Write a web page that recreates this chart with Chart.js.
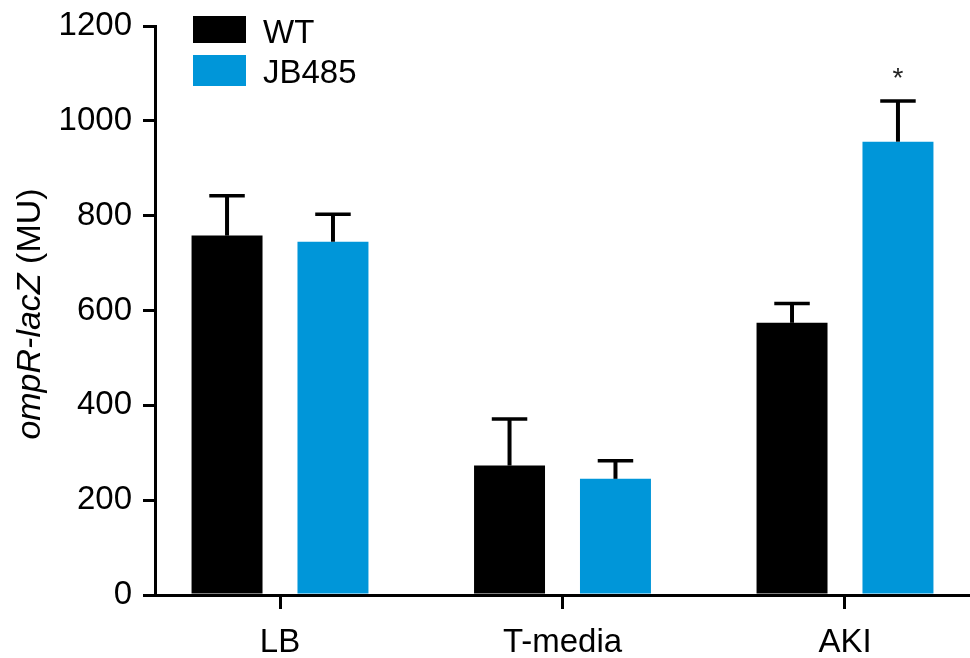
<!DOCTYPE html>
<html>
<head>
<meta charset="utf-8">
<script src="https://cdn.jsdelivr.net/npm/chart.js@4.4.1/dist/chart.umd.min.js"></script>
<style>
  html, body { margin: 0; padding: 0; background: #fff; }
  #wrap { width: 970px; height: 658px; }
</style>
</head>
<body>
<div id="wrap"><canvas id="chart" width="970" height="658"></canvas></div>
<script>
// data
const categories = ['LB', 'T-media', 'AKI'];
const wtMeans  = [758, 273, 574];
const wtErrors = [84, 98, 41];
const jbMeans  = [745, 245, 956];
const jbErrors = [58, 38, 86];
const jbStars  = ['', '', '*'];
const yMax = 1200;
const yStep = 200;

const FONT = "'Liberation Sans', Arial, Helvetica, sans-serif";
const BLUE = '#0096d9';

// one-sided (upward) error bars + significance stars
const errorBars = {
  id: 'errorBars',
  afterDatasetsDraw(chart) {
    const { ctx, scales: { y } } = chart;
    ctx.save();
    ctx.strokeStyle = '#000';
    chart.data.datasets.forEach((ds, i) => {
      const meta = chart.getDatasetMeta(i);
      meta.data.forEach((bar, j) => {
        const top = y.getPixelForValue(ds.data[j].y + ds.errors[j]);
        ctx.lineWidth = 4;
        ctx.beginPath();
        ctx.moveTo(bar.x, bar.y);
        ctx.lineTo(bar.x, top);
        ctx.stroke();
        ctx.lineWidth = 3.5;
        ctx.beginPath();
        ctx.moveTo(bar.x - bar.width / 4, top);
        ctx.lineTo(bar.x + bar.width / 4, top);
        ctx.stroke();
        if (ds.stars && ds.stars[j]) {
          ctx.fillStyle = '#222';
          ctx.font = `28px ${FONT}`;
          ctx.textAlign = 'center';
          ctx.textBaseline = 'alphabetic';
          ctx.fillText(ds.stars[j], bar.x, top - 14);
        }
      });
    });
    ctx.restore();
  }
};

// legend boxes top-left
const legendBoxes = {
  id: 'legendBoxes',
  afterDraw(chart) {
    const ctx = chart.ctx;
    const rows = [
      { y: 16, h: 27, base: 43 },
      { y: 55, h: 31, base: 83 }
    ];
    ctx.save();
    ctx.font = `33px ${FONT}`;
    ctx.textAlign = 'left';
    ctx.textBaseline = 'alphabetic';
    chart.data.datasets.forEach((ds, i) => {
      const r = rows[i];
      ctx.fillStyle = ds.backgroundColor;
      ctx.fillRect(193, r.y, 53, r.h);
      ctx.fillStyle = '#000';
      ctx.fillText(ds.label, 263, r.base);
    });
    ctx.restore();
  }
};

// y-axis title with italic gene name
const yTitle = {
  id: 'yTitle',
  afterDraw(chart) {
    const ctx = chart.ctx;
    const part1 = 'ompR-lacZ';
    const part2 = ' (MU)';
    ctx.save();
    ctx.translate(40, 314);
    ctx.rotate(-Math.PI / 2);
    ctx.fillStyle = '#000';
    ctx.textBaseline = 'alphabetic';
    ctx.textAlign = 'left';
    ctx.font = `italic 34px ${FONT}`;
    const w1 = ctx.measureText(part1).width;
    ctx.font = `34px ${FONT}`;
    const w2 = ctx.measureText(part2).width;
    const x0 = -(w1 + w2) / 2;
    ctx.font = `italic 34px ${FONT}`;
    ctx.fillText(part1, x0, 0);
    ctx.font = `34px ${FONT}`;
    ctx.fillText(part2, x0 + w1, 0);
    ctx.restore();
  }
};

new Chart(document.getElementById('chart'), {
  type: 'bar',
  data: {
    datasets: [
      {
        label: 'WT',
        data: categories.map((c, i) => ({ x: i, y: wtMeans[i] })),
        errors: wtErrors,
        backgroundColor: '#000',
        categoryPercentage: 0.75,
        barPercentage: 0.67
      },
      {
        label: 'JB485',
        data: categories.map((c, i) => ({ x: i, y: jbMeans[i] })),
        errors: jbErrors,
        stars: jbStars,
        backgroundColor: BLUE,
        categoryPercentage: 0.75,
        barPercentage: 0.67
      }
    ]
  },
  options: {
    responsive: false,
    animation: false,
    layout: { padding: { top: 26, right: 0, bottom: 0, left: 0 } },
    plugins: { legend: { display: false }, tooltip: { enabled: false } },
    scales: {
      x: {
        type: 'linear',
        min: -0.4425,
        max: categories.length - 1 + 0.4425,
        offset: false,
        afterBuildTicks: s => { s.ticks = categories.map((c, i) => ({ value: i })); },
        afterFit: s => { s.height = 63; s.paddingLeft = 0; s.paddingRight = 0; },
        grid: {
          offset: false, drawOnChartArea: false, drawTicks: true,
          tickLength: 14, tickWidth: 3, tickColor: '#000', color: '#000', lineWidth: 3
        },
        border: { display: true, color: '#000', width: 3 },
        ticks: {
          callback: v => categories[v],
          color: '#000', font: { family: FONT, size: 33 },
          padding: 14, maxRotation: 0, autoSkip: false
        }
      },
      y: {
        min: 0,
        max: yMax,
        afterFit: s => { s.width = 155; s.paddingTop = 0; s.paddingBottom = 0; },
        grid: {
          drawOnChartArea: false, drawTicks: true,
          tickLength: 12, tickWidth: 3, tickColor: '#000', color: '#000', lineWidth: 3
        },
        border: { display: true, color: '#000', width: 3 },
        ticks: {
          stepSize: yStep,
          callback: v => String(v),
          color: '#000', font: { family: FONT, size: 33 },
          padding: 11
        }
      }
    }
  },
  plugins: [errorBars, legendBoxes, yTitle]
});
</script>
</body>
</html>
